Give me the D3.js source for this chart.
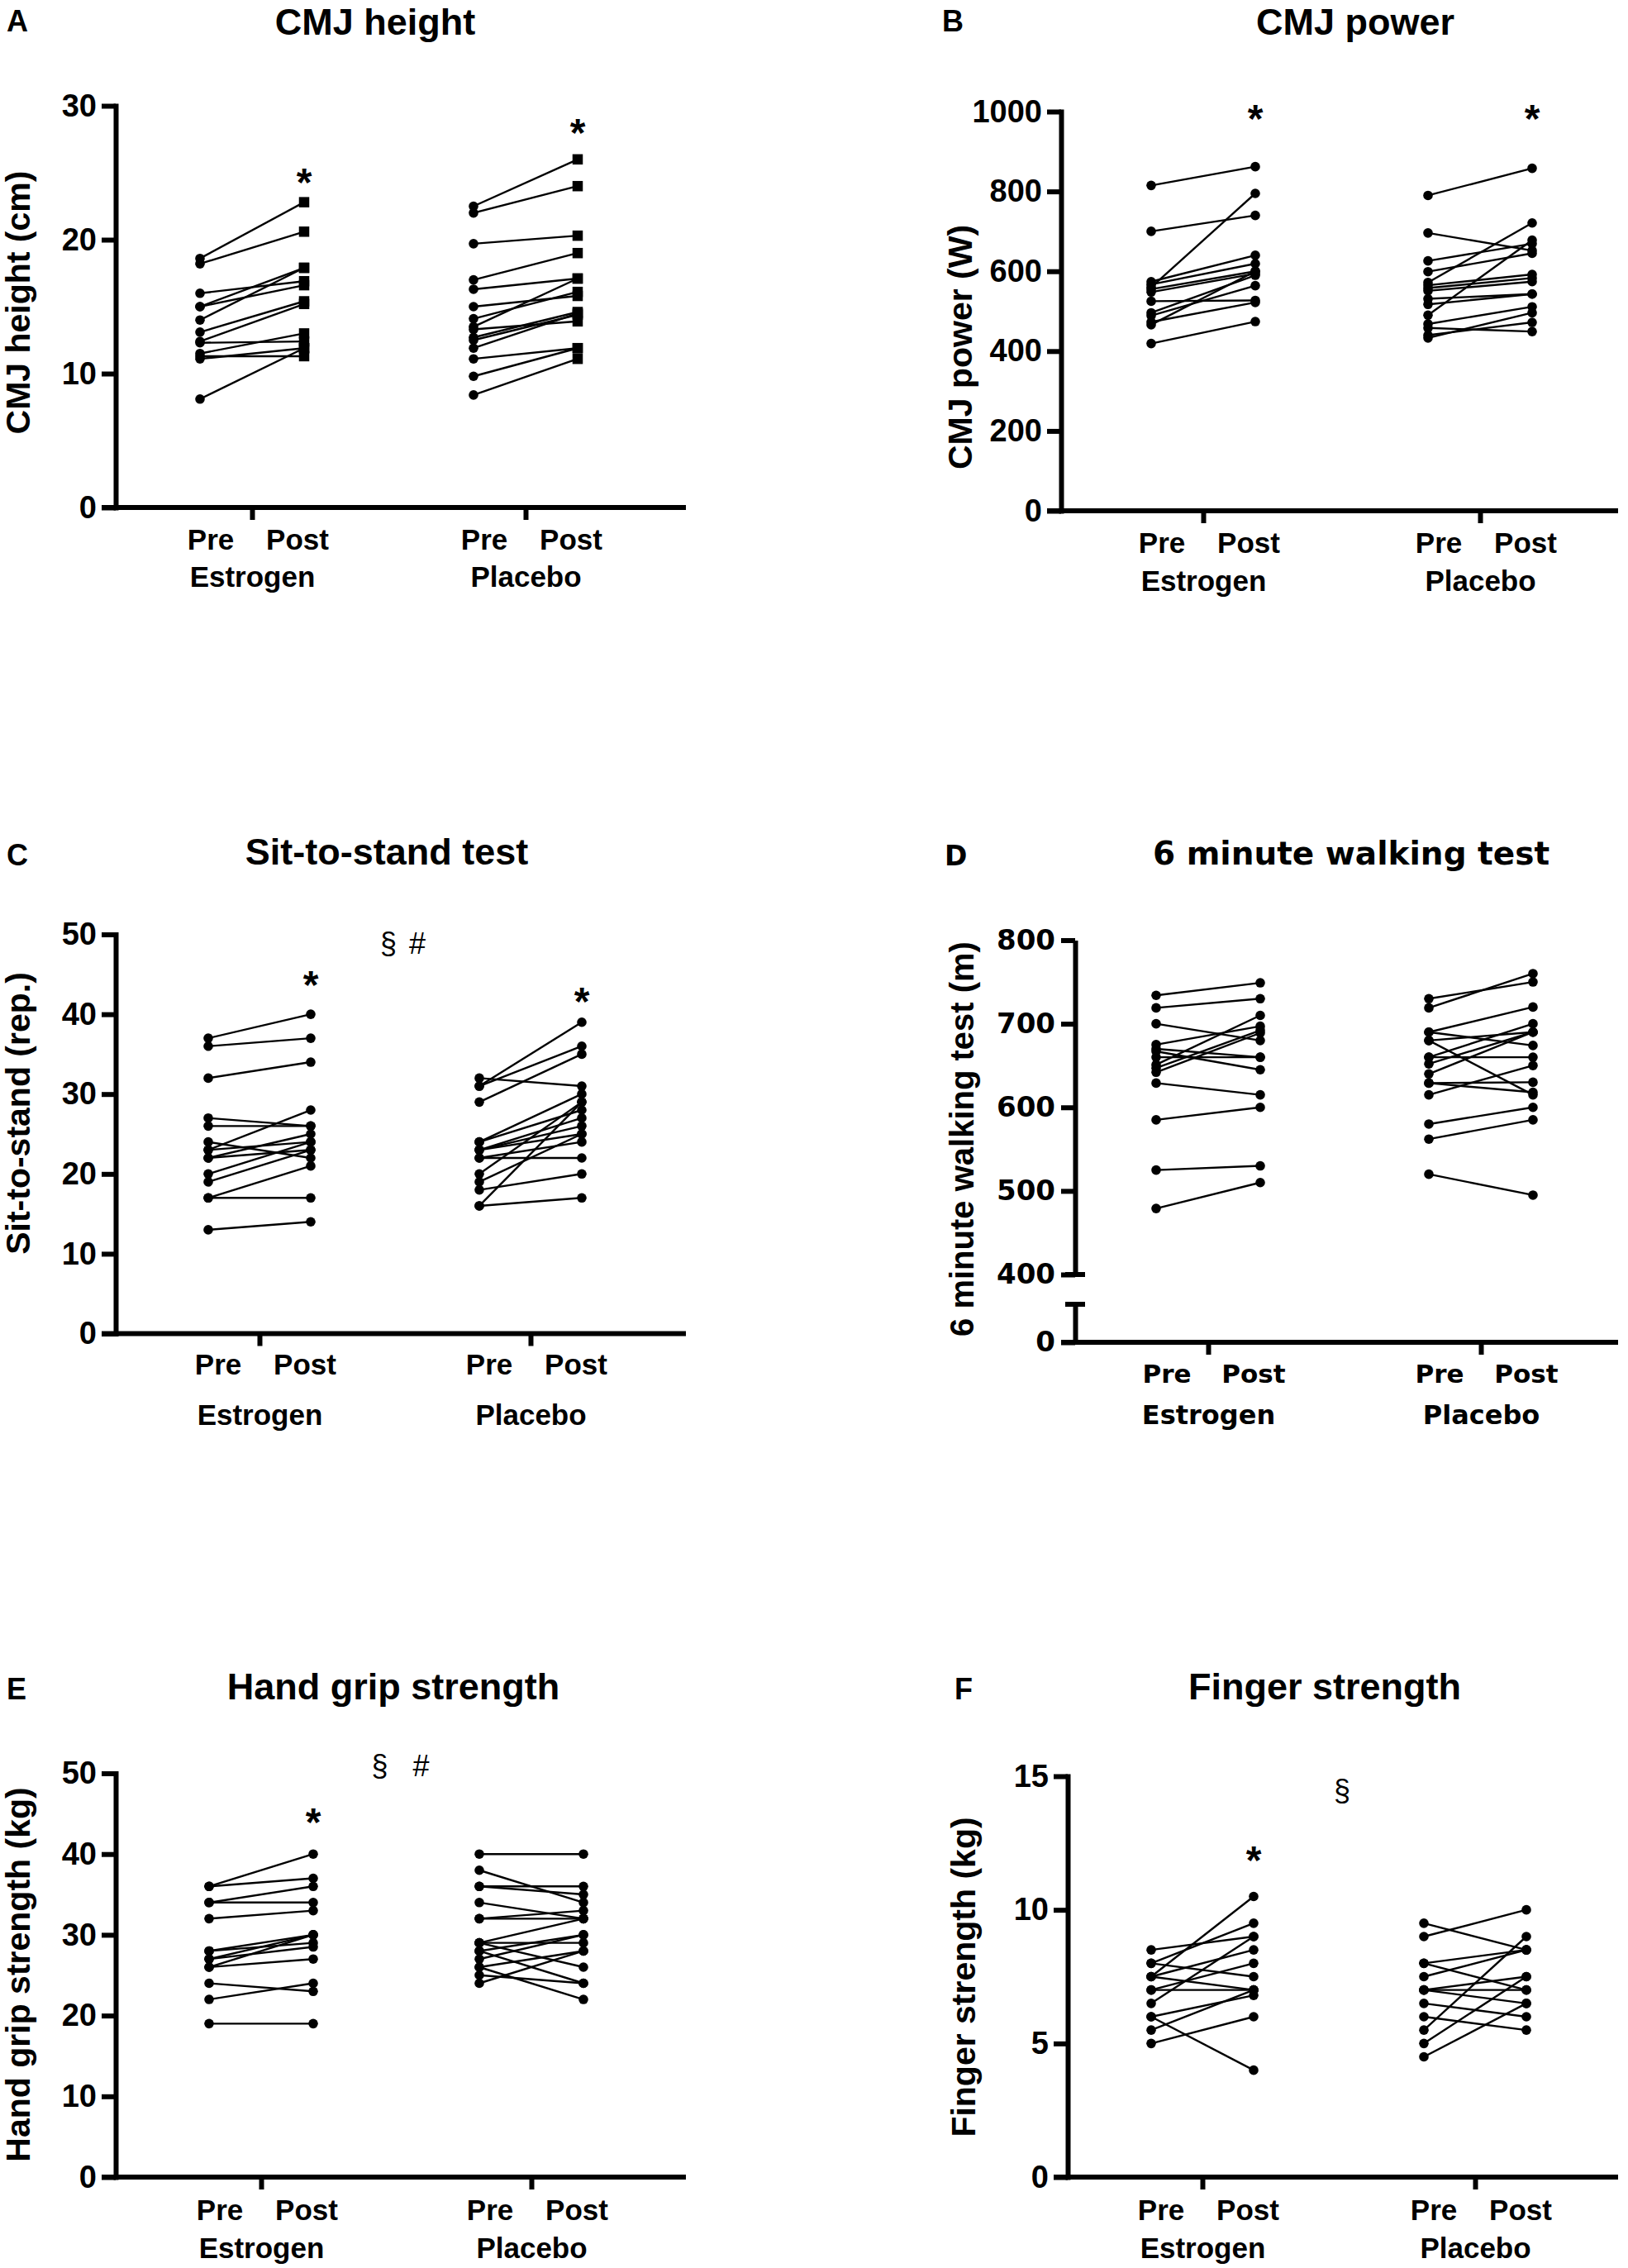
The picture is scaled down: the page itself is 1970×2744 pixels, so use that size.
<!DOCTYPE html>
<html><head><meta charset="utf-8">
<script src="https://cdn.jsdelivr.net/npm/d3@7"></script>
<style>body{margin:0;background:#fff}</style>
</head><body>
<script>
// ---------------- DATA ----------------
const groups = ["Estrogen", "Placebo"];
const times = ["Pre", "Post"];

// A  CMJ height (cm)
const cmjHeightEstrogenPre  = [18.6, 18.2, 16.0, 15.0, 15.0, 14.0, 13.1, 12.4, 12.3, 11.5, 11.3, 11.1, 8.1];
const cmjHeightEstrogenPost = [22.8, 20.6, 16.9, 17.9, 16.6, 17.9, 15.4, 15.2, 12.4, 13.0, 11.3, 11.9, 11.9];
const cmjHeightPlaceboPre   = [22.5, 22.0, 19.7, 17.0, 16.3, 15.0, 14.1, 13.5, 13.3, 12.7, 12.5, 11.9, 11.1, 9.8, 8.4];
const cmjHeightPlaceboPost  = [26.0, 24.0, 20.3, 19.0, 17.1, 15.8, 16.1, 17.1, 13.9, 14.6, 14.4, 14.5, 11.9, 11.9, 11.1];
const cmjHeightTicks = [0, 10, 20, 30];
const cmjHeightStars = [["Estrogen", 25.0], ["Placebo", 28.7]];

// B  CMJ power (W)
const cmjPowerEstrogenPre  = [815, 700, 560, 574, 567, 555, 548, 525, 496, 489, 473, 466, 419];
const cmjPowerEstrogenPost = [862, 740, 795, 640, 619, 600, 594, 527, 590, 564, 522, 600, 474];
const cmjPowerPlaceboPre   = [790, 696, 626, 599, 572, 565, 558, 551, 531, 517, 490, 468, 458, 440, 433];
const cmjPowerPlaceboPost  = [858, 652, 669, 645, 721, 592, 583, 574, 543, 543, 678, 511, 449, 472, 496];
const cmjPowerTicks = [0, 200, 400, 600, 800, 1000];
const cmjPowerStars = [["Estrogen", 1005], ["Placebo", 1005]];

// C  Sit-to-stand (rep.)
const sitEstrogenPre  = [37, 36, 32, 27, 26, 24, 23, 23, 22, 22, 20, 19, 17, 17, 13];
const sitEstrogenPost = [40, 37, 34, 26, 26, 22, 28, 24, 25, 23, 24, 23, 21, 17, 14];
const sitPlaceboPre   = [32, 31, 31, 29, 24, 24, 23, 23, 23, 22, 22, 20, 19, 18, 16, 16];
const sitPlaceboPost  = [31, 39, 36, 35, 30, 28, 27, 26, 25, 24, 22, 29, 25, 20, 29, 17];
const sitTicks = [0, 10, 20, 30, 40, 50];
const sitStars = [["Estrogen", 44.8], ["Placebo", 42.8]];
const sitNotes = [["§", 48.7], ["#", 48.7]];

// D  6 minute walking test (m)
const walkEstrogenPre  = [734, 719, 700, 675, 670, 667, 660, 651, 647, 642, 629, 585, 525, 479];
const walkEstrogenPost = [749, 730, 680, 697, 660, 645, 660, 710, 692, 689, 615, 600, 530, 510];
const walkPlaceboPre   = [730, 719, 690, 690, 680, 680, 660, 660, 652, 640, 629, 629, 615, 580, 562, 520];
const walkPlaceboPost  = [750, 760, 720, 674, 690, 615, 700, 660, 690, 690, 630, 618, 650, 600, 585, 495];
const walkTicksUpper = [400, 500, 600, 700, 800];
const walkTicksLower = [0];

// E  Hand grip strength (kg)
const gripEstrogenPre  = [36, 36, 34, 34, 32, 28, 28, 27, 27, 26, 26, 24, 22, 19];
const gripEstrogenPost = [40, 37, 36, 34, 33, 30, 29, 30, 28.5, 30, 27, 23, 24, 19];
const gripPlaceboPre   = [40, 38, 36, 36, 34, 32, 32, 29, 29, 29, 28, 28, 27, 26, 26, 25, 24];
const gripPlaceboPost  = [40, 34, 36, 35, 32, 33, 32, 32, 29, 26, 30, 24, 30, 28, 22, 24, 28];
const gripTicks = [0, 10, 20, 30, 40, 50];
const gripStars = [["Estrogen", 45.1]];
const gripNotes = [["§", 50.7], ["#", 50.7]];

// F  Finger strength (kg)
const fingerEstrogenPre  = [8.5, 8.0, 8.0, 7.5, 7.5, 7.5, 7.0, 7.0, 6.5, 6.0, 6.0, 5.5, 5.0];
const fingerEstrogenPost = [9.0, 9.5, 7.5, 10.5, 8.5, 7.0, 8.0, 7.0, 9.0, 6.8, 4.0, 7.0, 6.0];
const fingerPlaceboPre   = [9.5, 9.0, 8.0, 8.0, 7.5, 7.0, 7.0, 7.0, 6.5, 6.0, 5.5, 5.0, 4.5];
const fingerPlaceboPost  = [8.5, 10.0, 8.5, 7.0, 8.5, 7.5, 7.0, 6.5, 6.0, 5.5, 9.0, 7.5, 6.5];
const fingerTicks = [0, 5, 10, 15];
const fingerStars = [["Estrogen", 12.2]];
const fingerNotes = [["§", 14.4]];

// ---------------- LAYOUT / STYLE ----------------
const ARIAL = "'Liberation Sans', Arial, Helvetica, sans-serif";
const WIDE = "'DejaVu Sans', Verdana, sans-serif";
const narrowFonts = {tick: ARIAL, tickSize: 38, label: ARIAL, labelSize: 35, group: ARIAL, groupSize: 35,
                     title: ARIAL, titleSize: 45, letter: ARIAL, letterSize: 36, ylab: ARIAL, ylabSize: 41};
const wideFonts = {tick: WIDE, tickSize: 34, label: WIDE, labelSize: 31, group: WIDE, groupSize: 32,
                   title: WIDE, titleSize: 39, letter: WIDE, letterSize: 33, ylab: ARIAL, ylabSize: 40};

const panels = [
  {letter: "A", title: "CMJ height", ylab: "CMJ height (cm)",
   data: {Estrogen: [cmjHeightEstrogenPre, cmjHeightEstrogenPost], Placebo: [cmjHeightPlaceboPre, cmjHeightPlaceboPost]},
   ticks: cmjHeightTicks, stars: cmjHeightStars, notes: [], postSquare: true, fonts: narrowFonts,
   g: {axisX: 140, xEnd: 830, yTop: 128, yBot: 614, centers: [305, 636], half: 63, labelY: 665, groupY: 710,
       titleX: 454, titleY: 42, letterX: 8, letterY: 38, ylabX: 36, ylabY: 366, noteDx: []}},
  {letter: "B", title: "CMJ power", ylab: "CMJ power (W)",
   data: {Estrogen: [cmjPowerEstrogenPre, cmjPowerEstrogenPost], Placebo: [cmjPowerPlaceboPre, cmjPowerPlaceboPost]},
   ticks: cmjPowerTicks, stars: cmjPowerStars, notes: [], fonts: narrowFonts,
   g: {axisX: 1284, xEnd: 1958, yTop: 135, yBot: 618, centers: [1456, 1791], half: 63, labelY: 669, groupY: 715,
       titleX: 1640, titleY: 42, letterX: 1140, letterY: 38, ylabX: 1176, ylabY: 420, noteDx: []}},
  {letter: "C", title: "Sit-to-stand test", ylab: "Sit-to-stand (rep.)",
   data: {Estrogen: [sitEstrogenPre, sitEstrogenPost], Placebo: [sitPlaceboPre, sitPlaceboPost]},
   ticks: sitTicks, stars: sitStars, notes: sitNotes, fonts: narrowFonts,
   g: {axisX: 140, xEnd: 830, yTop: 1130.5, yBot: 1613.5, centers: [314, 642], half: 62, labelY: 1663, groupY: 1724,
       titleX: 468, titleY: 1046, letterX: 8, letterY: 1047, ylabX: 36, ylabY: 1347, noteDx: [-8, 27]}},
  {letter: "D", title: "6 minute walking test", ylab: "6 minute walking test (m)", broken: true,
   data: {Estrogen: [walkEstrogenPre, walkEstrogenPost], Placebo: [walkPlaceboPre, walkPlaceboPost]},
   ticks: walkTicksUpper, lowTicks: walkTicksLower, stars: [], notes: [], fonts: wideFonts,
   g: {axisX: 1301, xEnd: 1958, yTop: 1137.5, yBreak: 1542, yBreak2: 1578, yBot: 1624, centers: [1462, 1792], half: 63,
       labelY: 1673, groupY: 1723, titleX: 1635, titleY: 1046, letterX: 1143, letterY: 1047, ylabX: 1178, ylabY: 1378, noteDx: []}},
  {letter: "E", title: "Hand grip strength", ylab: "Hand grip strength (kg)",
   data: {Estrogen: [gripEstrogenPre, gripEstrogenPost], Placebo: [gripPlaceboPre, gripPlaceboPost]},
   ticks: gripTicks, stars: gripStars, notes: gripNotes, fonts: narrowFonts,
   g: {axisX: 140, xEnd: 830, yTop: 2145.5, yBot: 2634, centers: [316, 643], half: 63, labelY: 2686, groupY: 2732,
       titleX: 476, titleY: 2056, letterX: 8, letterY: 2056, ylabX: 36, ylabY: 2389, noteDx: [-20, 30]}},
  {letter: "F", title: "Finger strength", ylab: "Finger strength (kg)",
   data: {Estrogen: [fingerEstrogenPre, fingerEstrogenPost], Placebo: [fingerPlaceboPre, fingerPlaceboPost]},
   ticks: fingerTicks, stars: fingerStars, notes: fingerNotes, fonts: narrowFonts,
   g: {axisX: 1292, xEnd: 1958, yTop: 2149, yBot: 2634, centers: [1455, 1785], half: 62, labelY: 2686, groupY: 2732,
       titleX: 1603, titleY: 2056, letterX: 1155, letterY: 2056, ylabX: 1180, ylabY: 2392, noteDx: [4]}}
];

const AXW = 6, TICK = 17, XTICK = 15, LINEW = 2.4, R = 5.8, SQ = 12.5;
const fmt = d3.format("d");

const svg = d3.select("body").append("svg")
  .attr("width", 1970).attr("height", 2744)
  .style("background", "#fff");

function styleAxis(sel, font, size) {
  sel.select(".domain").attr("stroke", "#000").attr("stroke-width", AXW).attr("stroke-linecap", "square");
  sel.selectAll(".tick line").attr("stroke", "#000").attr("stroke-width", AXW);
  sel.selectAll(".tick text").attr("fill", "#000").style("font-family", font)
    .style("font-size", size + "px").style("font-weight", "bold");
}

panels.forEach(p => {
  const G = p.g, F = p.fonts;
  const g = svg.append("g");

  // y scale(s) and axes
  let y;
  if (p.broken) {
    y = d3.scaleLinear().domain([d3.min(p.ticks), d3.max(p.ticks)]).range([G.yBreak, G.yTop]);
    const ax = d3.axisLeft(y).tickValues(p.ticks).tickFormat(fmt).tickSize(TICK).tickSizeOuter(0).tickPadding(7);
    const a = g.append("g").attr("transform", `translate(${G.axisX},0)`).call(ax);
    styleAxis(a, F.tick, F.tickSize);
    a.select(".domain").attr("stroke-linecap", "butt");
    const yLow = d3.scaleLinear().domain([0, 1]).range([G.yBot, G.yBreak2]);
    const axL = d3.axisLeft(yLow).tickValues(p.lowTicks).tickFormat(fmt).tickSize(TICK).tickSizeOuter(0).tickPadding(7);
    const b = g.append("g").attr("transform", `translate(${G.axisX},0)`).call(axL);
    styleAxis(b, F.tick, F.tickSize);
    b.select(".domain").attr("stroke-linecap", "butt");
    // break caps
    [G.yBreak, G.yBreak2].forEach(yy => {
      g.append("line").attr("x1", G.axisX - 12).attr("x2", G.axisX + 12)
        .attr("y1", yy).attr("y2", yy).attr("stroke", "#000").attr("stroke-width", AXW);
    });
  } else {
    y = d3.scaleLinear().domain([0, d3.max(p.ticks)]).range([G.yBot, G.yTop]);
    const ax = d3.axisLeft(y).tickValues(p.ticks).tickFormat(fmt).tickSize(TICK).tickSizeOuter(0).tickPadding(6);
    const a = g.append("g").attr("transform", `translate(${G.axisX},0)`).call(ax);
    styleAxis(a, F.tick, F.tickSize);
  }

  // x scales
  const gx = d3.scalePoint().domain(groups).range(G.centers);
  const tx = d3.scalePoint().domain(times).range([-G.half, G.half]);
  const labelOffset = d3.scaleOrdinal().domain(times).range([-50, 55]);

  // x axis baseline
  g.append("line").attr("x1", G.axisX - TICK).attr("x2", G.xEnd)
    .attr("y1", G.yBot).attr("y2", G.yBot).attr("stroke", "#000").attr("stroke-width", AXW);
  const bx = d3.axisBottom(gx).tickSize(XTICK).tickSizeOuter(0);
  const xa = g.append("g").attr("transform", `translate(0,${G.yBot})`).call(bx);
  xa.select(".domain").remove();
  xa.selectAll(".tick line").attr("stroke", "#000").attr("stroke-width", AXW);
  xa.selectAll(".tick text").attr("y", G.groupY - G.yBot).attr("dy", 0).attr("fill", "#000")
    .style("font-family", F.group).style("font-size", F.groupSize + "px").style("font-weight", "bold");

  // Pre / Post labels
  groups.forEach(grp => {
    g.selectAll(null).data(times).join("text")
      .attr("x", t => gx(grp) + labelOffset(t)).attr("y", G.labelY)
      .attr("text-anchor", "middle")
      .style("font-family", F.label).style("font-size", F.labelSize + "px").style("font-weight", "bold")
      .text(t => t);
  });

  // paired lines + markers
  groups.forEach(grp => {
    const [pre, post] = p.data[grp];
    const pairs = pre.map((v, i) => ({pre: v, post: post[i]}));
    const xPre = gx(grp) + tx("Pre"), xPost = gx(grp) + tx("Post");
    g.selectAll(null).data(pairs).join("line")
      .attr("x1", xPre).attr("x2", xPost)
      .attr("y1", d => y(d.pre)).attr("y2", d => y(d.post))
      .attr("stroke", "#000").attr("stroke-width", LINEW);
    g.selectAll(null).data(pre).join("circle")
      .attr("cx", xPre).attr("cy", d => y(d)).attr("r", R).attr("fill", "#000");
    if (p.postSquare) {
      g.selectAll(null).data(post).join("rect")
        .attr("x", xPost - SQ / 2).attr("y", d => y(d) - SQ / 2)
        .attr("width", SQ).attr("height", SQ).attr("fill", "#000");
    } else {
      g.selectAll(null).data(post).join("circle")
        .attr("cx", xPost).attr("cy", d => y(d)).attr("r", R).attr("fill", "#000");
    }
  });

  // significance stars
  g.selectAll(null).data(p.stars).join("text")
    .attr("x", d => gx(d[0]) + tx("Post")).attr("y", d => y(d[1]) + 0.575 * 48)
    .attr("text-anchor", "middle")
    .style("font-family", ARIAL).style("font-size", "48px").style("font-weight", "bold")
    .text("*");

  // other notes (§ #)
  const mid = d3.mean(G.centers);
  g.selectAll(null).data(p.notes).join("text")
    .attr("x", (d, i) => mid + G.noteDx[i]).attr("y", d => y(d[1]) + 0.3 * 36)
    .attr("text-anchor", "middle")
    .style("font-family", ARIAL).style("font-size", "36px")
    .text(d => d[0]);

  // titles
  g.append("text").attr("x", G.titleX).attr("y", G.titleY).attr("text-anchor", "middle")
    .style("font-family", F.title).style("font-size", F.titleSize + "px").style("font-weight", "bold")
    .text(p.title);
  g.append("text").attr("x", G.letterX).attr("y", G.letterY)
    .style("font-family", F.letter).style("font-size", F.letterSize + "px").style("font-weight", "bold")
    .text(p.letter);
  g.append("text").attr("transform", `translate(${G.ylabX},${G.ylabY}) rotate(-90)`)
    .attr("text-anchor", "middle")
    .style("font-family", F.ylab).style("font-size", F.ylabSize + "px").style("font-weight", "bold")
    .text(p.ylab);
});
</script>
</body></html>
